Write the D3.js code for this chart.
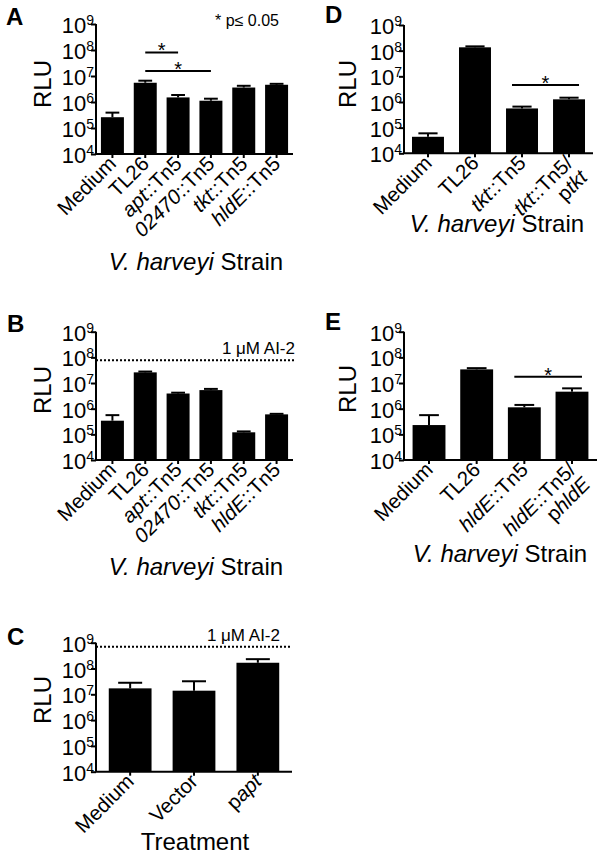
<!DOCTYPE html>
<html>
<head>
<meta charset="utf-8">
<script src="https://cdn.jsdelivr.net/npm/d3@7"></script>
<style>
  html, body { margin: 0; padding: 0; background: #fff; }
  svg { display: block; }
</style>
</head>
<body>
<div id="chart"></div>
<script>
// values (RLU, log scale); "_x_" marks italic text
const yTicks = [1e4, 1e5, 1e6, 1e7, 1e8, 1e9];

const strainsA = ['Medium', 'TL26', '_apt_::Tn5', '_02470_::Tn5', '_tkt_::Tn5', '_hldE_::Tn5'];
const rluA = [2.6e5, 5.5e6, 1.5e6, 1.12e6, 3.6e6, 4.6e6];
const errA = [3.9e5, 6.6e6, 1.86e6, 1.34e6, 4.2e6, 5.0e6];
const sigA = [{ from: 1, to: 2, y: 8.1e7 }, { from: 1, to: 3, y: 1.55e7 }];

const strainsB = ['Medium', 'TL26', '_apt_::Tn5', '_02470_::Tn5', '_tkt_::Tn5', '_hldE_::Tn5'];
const rluB = [3.4e5, 2.6e7, 3.9e6, 5.3e6, 1.2e5, 6.0e5];
const errB = [5.6e5, 2.8e7, 4.2e6, 5.9e6, 1.3e5, 6.3e5];
const ai2B = 7.8e7;

const treatC = ['Medium', 'Vector', 'p_apt_'];
const rluC = [1.7e7, 1.38e7, 1.67e8];
const errC = [2.8e7, 3.2e7, 2.3e8];
const ai2C = 6.9e8;

const strainsD = ['Medium', 'TL26', '_tkt_::Tn5', ['_tkt_::Tn5/', 'p_tkt_']];
const rluD = [4.4e4, 1.35e8, 5.6e5, 1.27e6];
const errD = [6.0e4, 1.47e8, 6.6e5, 1.47e6];
const sigD = [{ from: 2, to: 3, y: 4.6e6 }];

const strainsE = ['Medium', 'TL26', '_hldE_::Tn5', ['_hldE_::Tn5/', 'p_hldE_']];
const rluE = [2.3e5, 3.4e7, 1.13e6, 4.6e6];
const errE = [5.6e5, 3.8e7, 1.4e6, 6.2e6];
const sigE = [{ from: 2, to: 3, y: 1.75e7 }];

const FONT = 'Arial, "Liberation Sans", Helvetica, sans-serif';

const svg = d3.select('#chart')
  .append('svg')
  .attr('width', 604)
  .attr('height', 861)
  .style('font-family', FONT);

// writes "_italic_ plain" style strings as tspans
function richText(sel, str) {
  str.split('_').forEach((part, i) => {
    if (!part) return;
    sel.append('tspan')
      .style('font-style', i % 2 ? 'italic' : 'normal')
      .text(part);
  });
}

function drawPanel(p) {
  const g = svg.append('g');

  const y = d3.scaleLog()
    .domain([1e4, 1e9])
    .range([p.bottom, p.top]);

  const x = d3.scaleBand()
    .domain(p.cats.map((d, i) => i))
    .range([p.x0, p.x1])
    .paddingInner(p.padIn)
    .paddingOuter(p.padOut);

  const bw = x.bandwidth();

  // bars
  g.selectAll('rect.bar')
    .data(p.values)
    .enter()
    .append('rect')
    .attr('class', 'bar')
    .attr('x', (d, i) => x(i))
    .attr('y', d => y(d))
    .attr('width', bw)
    .attr('height', d => p.bottom - y(d))
    .attr('fill', '#000');

  // upper error bars
  const capW = Math.min(bw * 0.6, 24);
  p.errors.forEach((e, i) => {
    const cx = x(i) + bw / 2;
    g.append('line')
      .attr('x1', cx).attr('x2', cx)
      .attr('y1', y(p.values[i])).attr('y2', y(e))
      .attr('stroke', '#000').attr('stroke-width', 2);
    g.append('line')
      .attr('x1', cx - capW / 2).attr('x2', cx + capW / 2)
      .attr('y1', y(e)).attr('y2', y(e))
      .attr('stroke', '#000').attr('stroke-width', 2);
  });

  // y axis
  const yAxis = g.append('g')
    .attr('transform', `translate(${p.x0},0)`)
    .call(d3.axisLeft(y).tickValues(yTicks).tickSize(5).tickFormat(''));
  yAxis.select('.domain').attr('d', `M0,${p.top}V${p.bottom}`).attr('stroke-width', 2);
  yAxis.selectAll('.tick line').attr('stroke-width', 2);

  yTicks.forEach(t => {
    const txt = g.append('text')
      .attr('x', p.x0 - 2)
      .attr('y', y(t) + 9)
      .attr('text-anchor', 'end')
      .style('font-size', '22px');
    txt.append('tspan').text('10');
    txt.append('tspan')
      .attr('dy', -8)
      .style('font-size', '14px')
      .text(Math.round(Math.log10(t)));
  });

  // x axis
  const xAxis = g.append('g')
    .attr('transform', `translate(0,${p.bottom})`)
    .call(d3.axisBottom(x).tickSize(4).tickSizeOuter(0).tickFormat(''));
  xAxis.select('.domain').attr('d', `M${p.x0},0H${p.x1}`).attr('stroke-width', 2);
  xAxis.selectAll('.tick line').attr('stroke-width', 2);

  // rotated category labels
  p.cats.forEach((c, i) => {
    const lines = Array.isArray(c) ? c : [c];
    const cx = x(i) + bw / 2;
    const t = g.append('text')
      .attr('transform', `translate(${cx + 5},${p.bottom + 11}) rotate(-45)`)
      .attr('text-anchor', 'end')
      .style('font-size', '20.5px');
    lines.forEach((ln, j) => {
      const row = t.append('tspan').attr('x', 0).attr('dy', j ? '1em' : 0);
      richText(row, ln);
    });
  });

  // y title
  g.append('text')
    .attr('transform', `translate(${p.rluX},${p.rluY}) rotate(-90)`)
    .attr('text-anchor', 'middle')
    .style('font-size', '24px')
    .text('RLU');

  // x title
  const xt = g.append('text')
    .attr('x', p.titleX)
    .attr('y', p.titleY)
    .attr('text-anchor', 'middle')
    .style('font-size', '24px');
  richText(xt, p.title);

  // panel letter
  g.append('text')
    .attr('x', p.letterX)
    .attr('y', p.letterY)
    .style('font-size', '24px')
    .style('font-weight', 'bold')
    .text(p.letter);

  // significance brackets
  (p.sig || []).forEach(s => {
    const xa = x(s.from) + bw / 2 - (p.sigExt || 0);
    const xb = x(s.to) + bw / 2 + (p.sigExt || 0);
    g.append('line')
      .attr('x1', xa).attr('x2', xb)
      .attr('y1', y(s.y)).attr('y2', y(s.y))
      .attr('stroke', '#000').attr('stroke-width', 2);
    g.append('text')
      .attr('x', (xa + xb) / 2)
      .attr('y', y(s.y) + 5)
      .attr('text-anchor', 'middle')
      .style('font-size', '20px')
      .text('*');
  });

  // 1 uM AI-2 reference line
  if (p.ai2) {
    g.append('line')
      .attr('x1', p.x0).attr('x2', p.ai2End)
      .attr('y1', y(p.ai2)).attr('y2', y(p.ai2))
      .attr('stroke', '#000').attr('stroke-width', 2)
      .attr('stroke-dasharray', '2,2');
    g.append('text')
      .attr('x', p.ai2TextX)
      .attr('y', y(p.ai2) - 6)
      .attr('text-anchor', 'end')
      .style('font-size', '17px')
      .text('1 \u03bcM AI-2');
  }
}

drawPanel({
  letter: 'A', letterX: 6, letterY: 25,
  cats: strainsA, values: rluA, errors: errA, sig: sigA,
  x0: 96, x1: 293, top: 24, bottom: 154, padIn: 0.3, padOut: 0.15,
  rluX: 51, rluY: 84, title: '_V. harveyi_ Strain', titleX: 196, titleY: 270
});

svg.append('text')
  .attr('x', 279)
  .attr('y', 26)
  .attr('text-anchor', 'end')
  .style('font-size', '16px')
  .text('* p\u2264 0.05');

drawPanel({
  letter: 'B', letterX: 7, letterY: 332,
  cats: strainsB, values: rluB, errors: errB, ai2: ai2B, ai2End: 295, ai2TextX: 295,
  x0: 96, x1: 293, top: 331.7, bottom: 460, padIn: 0.3, padOut: 0.15,
  rluX: 51, rluY: 390, title: '_V. harveyi_ Strain', titleX: 196, titleY: 575
});

drawPanel({
  letter: 'C', letterX: 7, letterY: 645,
  cats: treatC, values: rluC, errors: errC, ai2: ai2C, ai2End: 291, ai2TextX: 280,
  x0: 96, x1: 292, top: 642.7, bottom: 771.7, padIn: 0.33, padOut: 0.2,
  rluX: 51, rluY: 700, title: 'Treatment', titleX: 195, titleY: 850
});

drawPanel({
  letter: 'D', letterX: 325, letterY: 23,
  cats: strainsD, values: rluD, errors: errD, sig: sigD, sigExt: 10,
  x0: 404, x1: 593, top: 25, bottom: 153.3, padIn: 0.32, padOut: 0.17,
  rluX: 356, rluY: 84, title: '_V. harveyi_ Strain', titleX: 497, titleY: 232
});

drawPanel({
  letter: 'E', letterX: 325, letterY: 330,
  cats: strainsE, values: rluE, errors: errE, sig: sigE, sigExt: 10,
  x0: 404, x1: 597, top: 331.7, bottom: 460, padIn: 0.31, padOut: 0.18,
  rluX: 356, rluY: 389, title: '_V. harveyi_ Strain', titleX: 500, titleY: 562
});
</script>
</body>
</html>
